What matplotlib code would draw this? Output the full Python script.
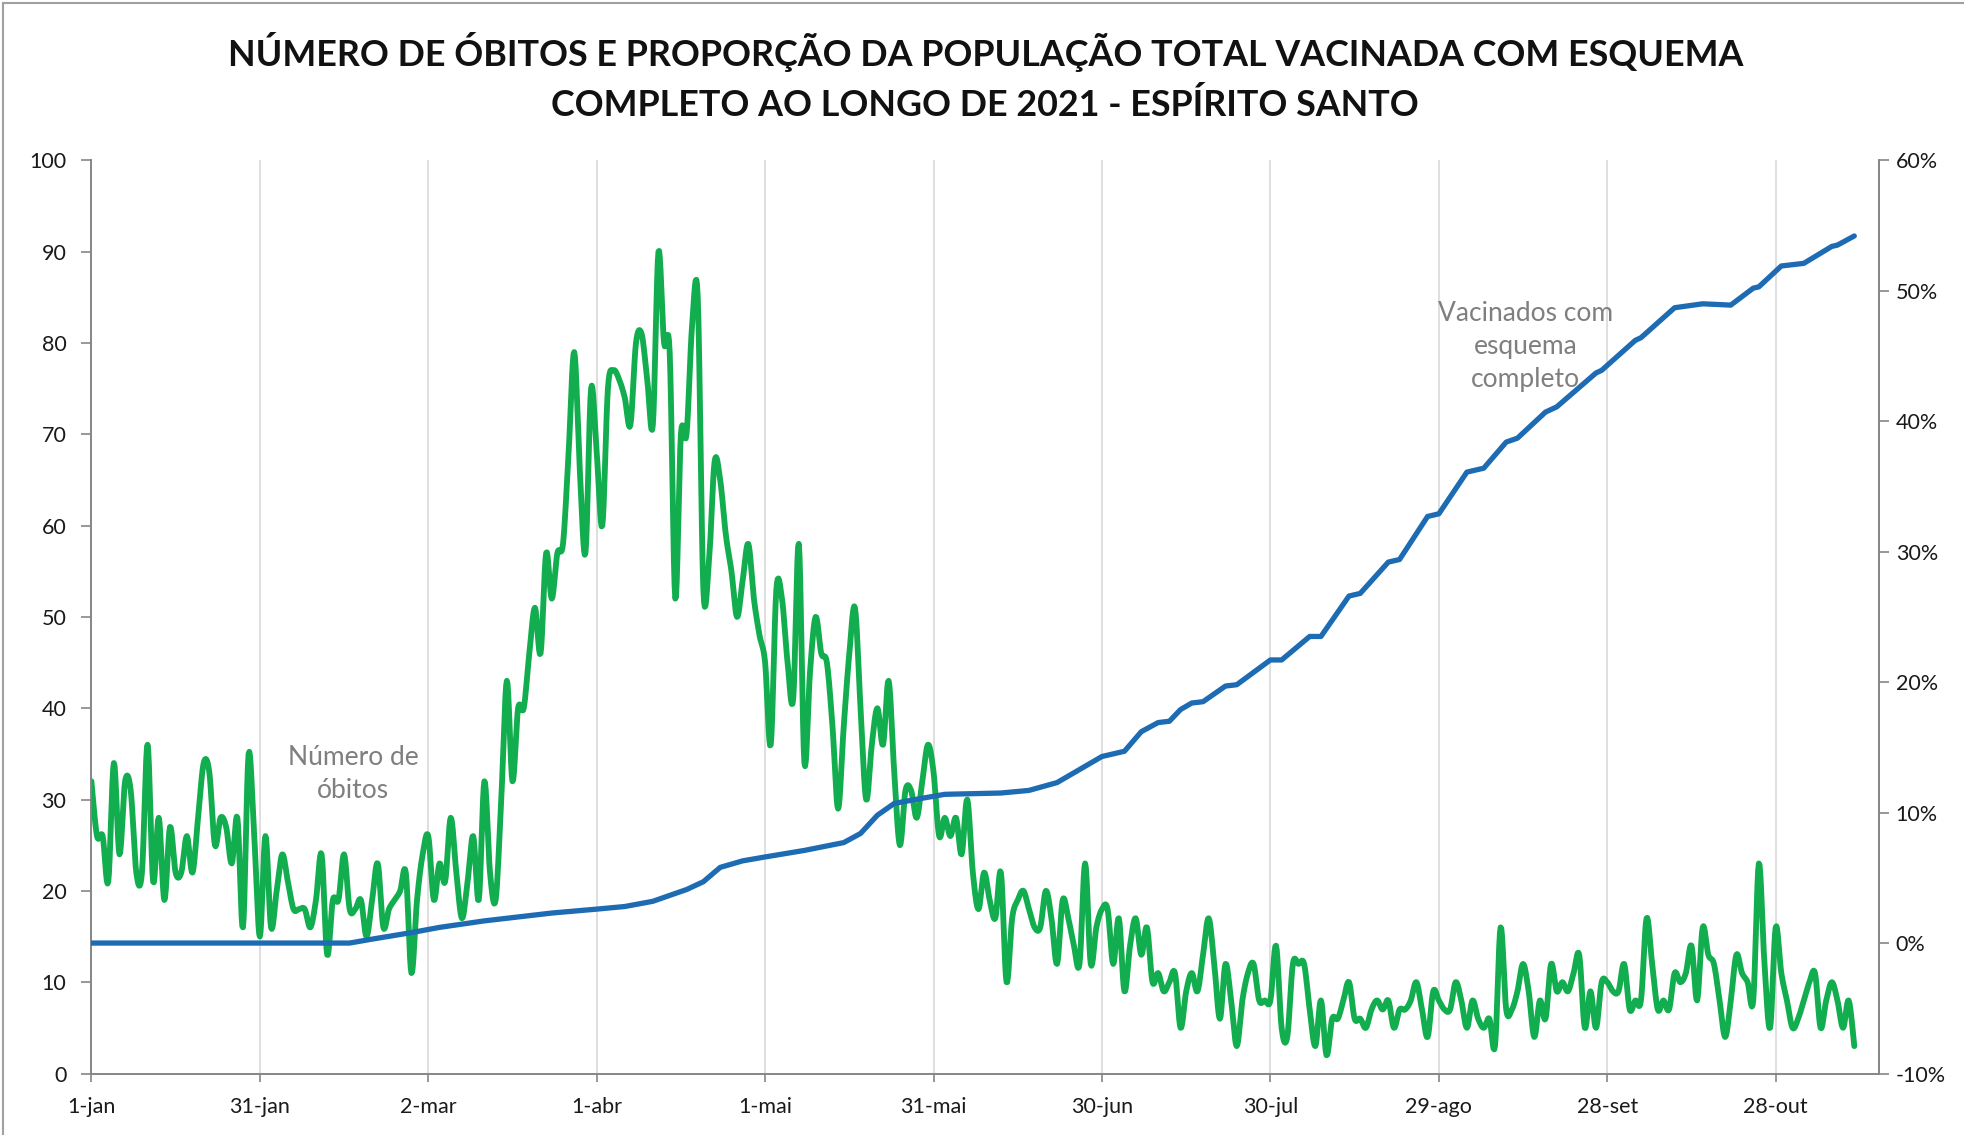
import numpy as np
import matplotlib
matplotlib.use("Agg")
import matplotlib.pyplot as plt
from matplotlib.patches import Rectangle

plt.rcParams['font.family'] = ['Lato', 'DejaVu Sans']

# ---------------- data ----------------
title = ("NÚMERO DE ÓBITOS E PROPORÇÃO DA POPULAÇÃO TOTAL VACINADA COM ESQUEMA\n"
         "COMPLETO AO LONGO DE 2021 - ESPÍRITO SANTO")

# daily deaths, starting 1-jan-2021 (one value per day)
deaths = [
    32, 26, 26, 21, 34, 24, 32, 31, 22, 22, 36, 21, 28, 19, 27, 22, 22, 26, 22, 28,
    34, 33, 25, 28, 27, 23, 28, 16, 35, 26, 15, 26, 16, 20, 24, 21, 18, 18, 18, 16,
    19, 24, 13, 19, 19, 24, 18, 18, 19, 15, 19, 23, 16, 18, 19, 20, 22, 11, 19, 24,
    26, 19, 23, 21, 28, 22, 17, 21, 26, 19, 32, 22, 19, 30, 43, 32, 40, 40, 46, 51,
    46, 57, 52, 57, 58, 68, 79, 66, 57, 75, 68, 60, 75, 77, 76, 74, 71, 80, 81, 76,
    71, 90, 80, 79, 52, 70, 70, 82, 85, 53, 56, 67, 65, 59, 55, 50, 54, 58, 52, 48,
    45, 36, 53, 52, 45, 41, 58, 34, 44, 50, 46, 45, 38, 29, 38, 46, 51, 40, 30, 36,
    40, 36, 43, 33, 25, 31, 31, 28, 32, 36, 33, 26, 28, 26, 28, 24, 30, 22, 18, 22,
    19, 17, 22, 10, 17, 19, 20, 18, 16, 16, 20, 17, 12, 19, 17, 14, 12, 23, 12, 16,
    18, 18, 12, 17, 9, 14, 17, 13, 16, 10, 11, 9, 10, 11, 5, 9, 11, 9, 13, 17,
    12, 6, 12, 8, 3, 8, 11, 12, 8, 8, 8, 14, 5, 4, 12, 12, 12, 7, 3, 8,
    2, 6, 6, 8, 10, 6, 6, 5, 7, 8, 7, 8, 5, 7, 7, 8, 10, 7, 4, 9,
    8, 7, 7, 10, 8, 5, 8, 6, 5, 6, 3, 16, 7, 7, 9, 12, 9, 4, 8, 6,
    12, 9, 10, 9, 11, 13, 5, 9, 5, 10, 10, 9, 9, 12, 7, 8, 8, 17, 12, 7,
    8, 7, 11, 10, 11, 14, 8, 16, 13, 12, 8, 4, 8, 13, 11, 10, 8, 23, 12, 5,
    16, 11, 8, 5, 6, 8, 10, 11, 5, 8, 10, 8, 5, 8, 3,
]

# share of population fully vaccinated (%), read at given day offsets from 1-jan
vac_day = [0, 46, 50, 57, 62, 70, 82, 90, 95, 100, 106, 109, 112, 116, 120, 127,
           134, 137, 140, 143, 148, 152, 162, 167, 172, 176, 180, 184, 187, 190,
           192, 194, 196, 198, 202, 204, 210, 212, 217, 219, 224, 226, 231, 233,
           238, 240, 245, 248, 252, 254, 259, 261, 268, 269, 275, 276, 282, 287,
           292, 296, 297, 301, 305, 310, 311, 314]
vac_pct = [0.0, 0.0, 0.3, 0.8, 1.2, 1.7, 2.3, 2.6, 2.8, 3.2, 4.1, 4.7, 5.8, 6.3,
           6.6, 7.1, 7.7, 8.4, 9.8, 10.7, 11.1, 11.4, 11.5, 11.7, 12.3, 13.3, 14.3,
           14.7, 16.2, 16.9, 17.0, 17.9, 18.4, 18.5, 19.7, 19.8, 21.7, 21.7, 23.5,
           23.5, 26.6, 26.8, 29.2, 29.4, 32.7, 32.9, 36.1, 36.4, 38.4, 38.7, 40.7,
           41.1, 43.7, 43.9, 46.2, 46.4, 48.7, 49.0, 48.9, 50.2, 50.3, 51.9, 52.1,
           53.4, 53.5, 54.2]

x_tick_labels = ["1-jan", "31-jan", "2-mar", "1-abr", "1-mai", "31-mai",
                 "30-jun", "30-jul", "29-ago", "28-set", "28-out"]
left_ticks = list(range(0, 101, 10))
right_ticks = list(range(-10, 61, 10))

label_deaths = "Número de\nóbitos"
label_vac = "Vacinados com\nesquema\ncompleto"


def smooth_line(x, y, n=8):
    """Excel-like smoothed line (cardinal / Catmull-Rom curve through points)."""
    x = np.asarray(x, float)
    y = np.asarray(y, float)
    px = np.concatenate([[x[0]], x, [x[-1]]])
    py = np.concatenate([[y[0]], y, [y[-1]]])
    t = np.linspace(0, 1, n, endpoint=False)[:, None]
    out_x, out_y = [], []
    for arr, out in ((px, out_x), (py, out_y)):
        p0, p1, p2, p3 = arr[:-3], arr[1:-2], arr[2:-1], arr[3:]
        seg = 0.5 * ((2 * p1) + (-p0 + p2) * t + (2 * p0 - 5 * p1 + 4 * p2 - p3) * t ** 2
                     + (-p0 + 3 * p1 - 3 * p2 + p3) * t ** 3)
        out.append(np.concatenate([seg.T.ravel(), [arr[-2]]]))
    return out_x[0], out_y[0]


# ---------------- figure ----------------
W, H = 1964, 1135
fig = plt.figure(figsize=(W / 100, H / 100), dpi=100)
fig.patch.set_facecolor("white")

# chart-area border
fig.add_artist(Rectangle((3 / W, -0.01), 1.02, 1 - 3 / H + 0.01, transform=fig.transFigure,
                         fill=False, edgecolor="#a0a0a0", lw=1.5))

left, right = 91.4 / W, 1879 / W
bottom, top = 1 - 1073.5 / H, 1 - 160.3 / H
ax = fig.add_axes([left, bottom, right - left, top - bottom])
ax2 = ax.twinx()

days = np.arange(len(deaths))
ax.set_xlim(0, 318.4)
ax.set_ylim(0, 100)
ax2.set_ylim(-10, 60)

ax.set_xticks(np.arange(len(x_tick_labels)) * 30)
ax.set_xticklabels(x_tick_labels)
ax.set_yticks(left_ticks)
ax.set_yticklabels([str(v) for v in left_ticks])
ax2.set_yticks(right_ticks)
ax2.set_yticklabels([f"{v}%" for v in right_ticks])

ax.grid(axis="x", color="#d9d9d9", lw=1.2)
ax.set_axisbelow(True)

spine_col = "#868686"
for a in (ax, ax2):
    for s in a.spines.values():
        s.set_color(spine_col)
        s.set_linewidth(1.2)
    a.spines["top"].set_visible(False)
ax.tick_params(axis="x", length=6, width=1.2, color=spine_col, labelsize=15.5, pad=11,
               labelcolor="#1a1a1a")
ax.tick_params(axis="y", length=7, width=1.2, color=spine_col, labelsize=15.5, pad=11,
               labelcolor="#1a1a1a")
ax2.tick_params(axis="y", length=7, width=1.2, color=spine_col, labelsize=15.5, pad=5,
                labelcolor="#1a1a1a")

# green: deaths (left axis)
sx, sy = smooth_line(days, deaths, n=8)
ax.plot(sx, sy, color="#12ad4e", lw=4.2, solid_joinstyle="round", solid_capstyle="round",
        zorder=3)

# blue: vaccinated (right axis)
ax2.plot(vac_day, vac_pct, color="#1c6bb3", lw=3.8, solid_joinstyle="round",
         solid_capstyle="round", zorder=3)

ax.text(46.6, 32.8, label_deaths, color="#7f7f7f", fontsize=19, ha="center", va="center",
        linespacing=1.4)
ax2.text(255.4, 45.7, label_vac, color="#7f7f7f", fontsize=19, ha="center", va="center",
         linespacing=1.4)

fig.text((91.4 + 1879) / 2 / W, 1 - 77 / H, title, ha="center", va="center",
         fontsize=25.8, fontweight="bold", color="#111111", linespacing=1.6)

fig.savefig("out.png", dpi=100)
